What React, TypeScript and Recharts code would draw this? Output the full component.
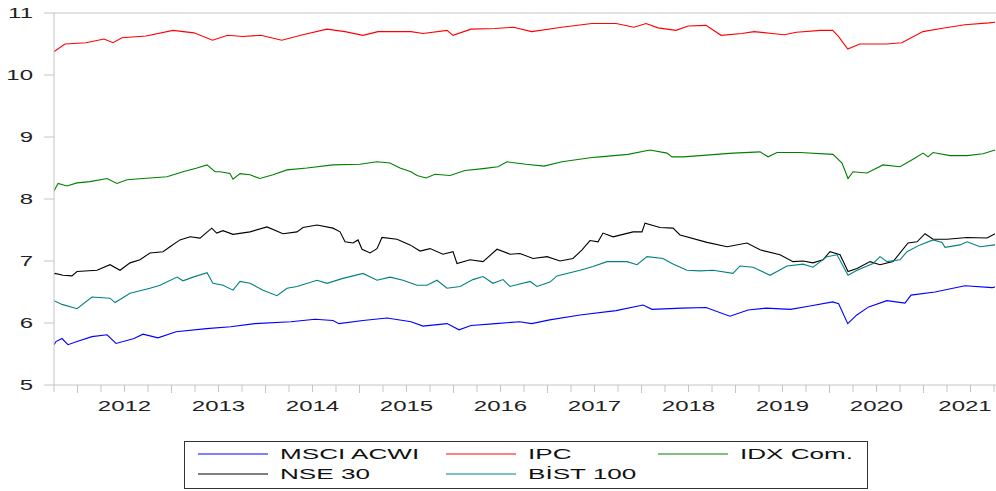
import { LineChart, Line, XAxis, YAxis, ReferenceLine, Legend } from 'recharts';

// [decimal year, log level]
const msciAcwi: [number, number][] = [
  [2011.75, 5.65], [2011.771, 5.7], [2011.835, 5.75], [2011.899, 5.65], [2011.995, 5.7],
  [2012.154, 5.78], [2012.314, 5.81], [2012.41, 5.67], [2012.601, 5.75], [2012.697, 5.82],
  [2012.856, 5.76], [2013.048, 5.86], [2013.372, 5.91], [2013.629, 5.94], [2013.885, 5.99],
  [2014.269, 6.02], [2014.527, 6.06], [2014.718, 6.04], [2014.782, 5.99], [2015.037, 6.04],
  [2015.293, 6.08], [2015.548, 6.02], [2015.676, 5.95], [2015.931, 5.99], [2016.059, 5.89],
  [2016.186, 5.96], [2016.447, 5.99], [2016.703, 6.02], [2016.831, 5.99], [2017.023, 6.05],
  [2017.346, 6.13], [2017.729, 6.2], [2018.016, 6.29], [2018.112, 6.22], [2018.431, 6.24],
  [2018.686, 6.25], [2018.941, 6.11], [2019.133, 6.21], [2019.324, 6.24], [2019.585, 6.22],
  [2019.777, 6.27], [2020.033, 6.34], [2020.097, 6.31], [2020.194, 5.99], [2020.29, 6.13],
  [2020.417, 6.26], [2020.61, 6.36], [2020.803, 6.32], [2020.867, 6.45], [2021.122, 6.5],
  [2021.441, 6.6], [2021.729, 6.57], [2021.761, 6.58],
];

const ipc: [number, number][] = [
  [2011.75, 10.38], [2011.771, 10.4], [2011.867, 10.5], [2012.09, 10.52], [2012.282, 10.58],
  [2012.378, 10.52], [2012.473, 10.6], [2012.729, 10.63], [2013.016, 10.72], [2013.239, 10.68],
  [2013.436, 10.56], [2013.597, 10.64], [2013.756, 10.62], [2013.949, 10.64], [2014.173, 10.56],
  [2014.397, 10.65], [2014.654, 10.74], [2014.846, 10.7], [2015.037, 10.64], [2015.197, 10.7],
  [2015.548, 10.7], [2015.676, 10.67], [2015.931, 10.72], [2015.995, 10.64], [2016.186, 10.74],
  [2016.441, 10.75], [2016.638, 10.77], [2016.831, 10.7], [2017.151, 10.77], [2017.471, 10.83],
  [2017.729, 10.83], [2017.92, 10.77], [2018.048, 10.83], [2018.176, 10.76], [2018.367, 10.72],
  [2018.495, 10.79], [2018.686, 10.8], [2018.846, 10.64], [2019.069, 10.67], [2019.197, 10.7],
  [2019.388, 10.67], [2019.516, 10.65], [2019.649, 10.69], [2019.905, 10.72], [2020.033, 10.72],
  [2020.097, 10.62], [2020.194, 10.42], [2020.321, 10.5], [2020.481, 10.5], [2020.61, 10.5],
  [2020.769, 10.52], [2020.994, 10.7], [2021.186, 10.75], [2021.441, 10.81], [2021.697, 10.84],
  [2021.761, 10.85],
];

const idxCom: [number, number][] = [
  [2011.75, 8.13], [2011.761, 8.16], [2011.793, 8.25], [2011.888, 8.21], [2011.995, 8.26],
  [2012.133, 8.28], [2012.314, 8.33], [2012.42, 8.25], [2012.527, 8.31], [2012.697, 8.33],
  [2012.952, 8.36], [2013.122, 8.44], [2013.271, 8.5], [2013.378, 8.55], [2013.463, 8.44],
  [2013.516, 8.44], [2013.622, 8.41], [2013.654, 8.32], [2013.729, 8.41], [2013.835, 8.39],
  [2013.941, 8.33], [2014.08, 8.39], [2014.229, 8.47], [2014.441, 8.5], [2014.718, 8.55],
  [2015.005, 8.56], [2015.186, 8.6], [2015.324, 8.58], [2015.431, 8.5], [2015.548, 8.44],
  [2015.612, 8.38], [2015.707, 8.34], [2015.803, 8.4], [2015.963, 8.38], [2016.122, 8.46],
  [2016.314, 8.49], [2016.473, 8.52], [2016.569, 8.6], [2016.771, 8.56], [2016.963, 8.53],
  [2017.154, 8.6], [2017.473, 8.67], [2017.559, 8.68], [2017.856, 8.72], [2018.09, 8.79],
  [2018.271, 8.74], [2018.324, 8.68], [2018.441, 8.68], [2018.622, 8.7], [2018.973, 8.74],
  [2019.261, 8.76], [2019.346, 8.68], [2019.441, 8.75], [2019.686, 8.75], [2020.037, 8.72],
  [2020.133, 8.58], [2020.197, 8.33], [2020.25, 8.44], [2020.399, 8.42], [2020.569, 8.55],
  [2020.75, 8.52], [2020.888, 8.64], [2020.995, 8.74], [2021.048, 8.68], [2021.101, 8.75],
  [2021.282, 8.7], [2021.463, 8.7], [2021.633, 8.73], [2021.761, 8.79],
];

const nse30: [number, number][] = [
  [2011.75, 6.79], [2011.761, 6.8], [2011.846, 6.77], [2011.941, 6.76], [2011.995, 6.83],
  [2012.207, 6.85], [2012.346, 6.94], [2012.452, 6.85], [2012.559, 6.97], [2012.665, 7.02],
  [2012.771, 7.13], [2012.91, 7.15], [2012.984, 7.23], [2013.09, 7.34], [2013.197, 7.39],
  [2013.303, 7.37], [2013.428, 7.53], [2013.481, 7.45], [2013.548, 7.49], [2013.654, 7.43],
  [2013.835, 7.47], [2014.016, 7.55], [2014.186, 7.44], [2014.335, 7.47], [2014.399, 7.54],
  [2014.548, 7.58], [2014.718, 7.53], [2014.793, 7.47], [2014.846, 7.31], [2014.931, 7.29],
  [2014.984, 7.34], [2015.027, 7.19], [2015.112, 7.13], [2015.186, 7.2], [2015.239, 7.38],
  [2015.399, 7.35], [2015.537, 7.26], [2015.644, 7.16], [2015.75, 7.2], [2015.888, 7.11],
  [2015.995, 7.15], [2016.037, 6.96], [2016.176, 7.02], [2016.314, 6.99], [2016.463, 7.19],
  [2016.601, 7.11], [2016.707, 7.12], [2016.846, 7.04], [2016.995, 7.07], [2017.133, 7.0],
  [2017.271, 7.04], [2017.367, 7.18], [2017.452, 7.33], [2017.537, 7.31], [2017.59, 7.45],
  [2017.697, 7.39], [2017.91, 7.47], [2018.005, 7.47], [2018.037, 7.61], [2018.197, 7.54],
  [2018.335, 7.53], [2018.41, 7.42], [2018.697, 7.3], [2018.91, 7.23], [2019.122, 7.29],
  [2019.261, 7.18], [2019.473, 7.1], [2019.612, 6.99], [2019.718, 7.0], [2019.824, 6.97],
  [2019.931, 7.02], [2020.005, 7.15], [2020.112, 7.1], [2020.197, 6.83], [2020.293, 6.88],
  [2020.431, 6.99], [2020.537, 6.94], [2020.676, 6.99], [2020.835, 7.29], [2020.931, 7.31],
  [2021.016, 7.44], [2021.101, 7.35], [2021.25, 7.35], [2021.463, 7.38], [2021.676, 7.37],
  [2021.761, 7.44],
];

const bist100: [number, number][] = [
  [2011.75, 6.36], [2011.835, 6.3], [2011.995, 6.23], [2012.154, 6.42], [2012.346, 6.4],
  [2012.399, 6.33], [2012.452, 6.38], [2012.559, 6.48], [2012.771, 6.56], [2012.878, 6.61],
  [2013.059, 6.74], [2013.122, 6.68], [2013.229, 6.74], [2013.378, 6.81], [2013.441, 6.64],
  [2013.548, 6.61], [2013.654, 6.53], [2013.729, 6.67], [2013.835, 6.64], [2013.973, 6.53],
  [2014.122, 6.44], [2014.229, 6.56], [2014.335, 6.59], [2014.548, 6.69], [2014.654, 6.64],
  [2014.824, 6.72], [2015.037, 6.8], [2015.186, 6.69], [2015.324, 6.74], [2015.463, 6.69],
  [2015.612, 6.61], [2015.718, 6.61], [2015.824, 6.69], [2015.931, 6.56], [2016.069, 6.59],
  [2016.207, 6.7], [2016.314, 6.75], [2016.42, 6.64], [2016.527, 6.7], [2016.601, 6.59],
  [2016.814, 6.67], [2016.888, 6.59], [2017.027, 6.66], [2017.101, 6.76], [2017.346, 6.85],
  [2017.484, 6.91], [2017.633, 6.99], [2017.846, 6.99], [2017.952, 6.94], [2018.059, 7.07],
  [2018.229, 7.04], [2018.335, 6.95], [2018.484, 6.85], [2018.622, 6.84], [2018.761, 6.85],
  [2018.973, 6.8], [2019.048, 6.92], [2019.186, 6.9], [2019.367, 6.77], [2019.548, 6.92],
  [2019.718, 6.95], [2019.824, 6.9], [2019.973, 7.07], [2020.08, 7.1], [2020.197, 6.77],
  [2020.293, 6.85], [2020.463, 6.96], [2020.537, 7.07], [2020.612, 6.99], [2020.75, 7.02],
  [2020.824, 7.15], [2020.963, 7.26], [2021.101, 7.34], [2021.197, 7.3], [2021.229, 7.22],
  [2021.388, 7.26], [2021.463, 7.31], [2021.601, 7.23], [2021.761, 7.26],
];

const yearLabels = ['2012', '2013', '2014', '2015', '2016', '2017', '2018', '2019', '2020', '2021'];
const yTicks = [5, 6, 7, 8, 9, 10, 11];

const series = [
  { name: 'MSCI ACWI', color: '#0000ff', points: msciAcwi },
  { name: 'IPC', color: '#ff0000', points: ipc },
  { name: 'IDX Com.', color: '#008000', points: idxCom },
  { name: 'NSE 30', color: '#000000', points: nse30 },
  { name: 'BİST 100', color: '#008080', points: bist100 },
];

const AXIS = '#c4c4c4';
const FONT = '"Liberation Sans", Arial, sans-serif';
const X_START = 2011.75;
const X_END = 2021.771;
const CHART_W = 996;
const quarterTicks = Array.from({ length: 41 }, (_, i) => X_START + i * 0.25);

function YearTick(props: any) {
  const { x, y, payload } = props;
  const v: number = payload.value;
  const frac = v - Math.floor(v);
  const isYearStart = frac === 0;
  const label = frac === 0.5 ? yearLabels.find((s) => Number(s) === Math.floor(v)) : undefined;
  // keep the last label inside the picture
  const lx = Math.min(x, CHART_W - 31);
  return (
    <g>
      <line x1={x} x2={x} y1={y} y2={y + (isYearStart ? 8 : 7)} stroke={AXIS} />
      {label && (
        <text
          transform={`translate(${lx},${y + 26}) scale(1.6,1)`}
          textAnchor="middle"
          fontSize={15}
          fill="#222"
          fontFamily={FONT}
        >
          {label}
        </text>
      )}
    </g>
  );
}

function ValueTick(props: any) {
  const { x, y, payload } = props;
  return (
    <text
      transform={`translate(${x},${y}) scale(1.6,1)`}
      textAnchor="end"
      dy="0.36em"
      fontSize={15}
      fill="#222"
      fontFamily={FONT}
    >
      {payload.value}
    </text>
  );
}

function LegendBox() {
  const cols = [14, 262, 474];
  const rows = [13, 33];
  return (
    <svg width={684} height={48} style={{ display: 'block' }}>
      <rect x={0.5} y={0.5} width={683} height={47} fill="#fff" stroke="#333" />
      {series.map((s, i) => {
        const cx = cols[i % 3];
        const cy = rows[Math.floor(i / 3)];
        return (
          <g key={s.name}>
            <line x1={cx} x2={cx + 70} y1={cy} y2={cy} stroke={s.color} />
            <text
              transform={`translate(${cx + 82},${cy + 5}) scale(1.8,1)`}
              fontSize={14.5}
              fill="#111"
              fontFamily={FONT}
            >
              {s.name}
            </text>
          </g>
        );
      })}
    </svg>
  );
}

export default function App() {
  return (
    <div style={{ position: 'absolute', left: 0, top: 0, background: '#fff' }}>
      <LineChart
        width={CHART_W}
        height={491}
        margin={{ top: 13, right: 0, left: 0, bottom: 76 }}
        style={{ fontFamily: FONT }}
      >
        <XAxis
          type="number"
          dataKey="t"
          domain={[X_START, X_END]}
          ticks={quarterTicks}
          interval={0}
          allowDataOverflow
          height={30}
          tickSize={0}
          tickMargin={0}
          tickLine={false}
          axisLine={{ stroke: AXIS }}
          tick={<YearTick />}
        />
        <YAxis
          type="number"
          domain={[5, 11]}
          ticks={yTicks}
          interval={0}
          width={54}
          tickSize={10}
          tickMargin={11}
          tickLine={{ stroke: AXIS }}
          axisLine={{ stroke: AXIS }}
          tick={<ValueTick />}
        />
        <ReferenceLine y={11} stroke={AXIS} />
        {series.map((s) => (
          <Line
            key={s.name}
            name={s.name}
            data={s.points.map(([t, v]) => ({ t, v }))}
            dataKey="v"
            type="linear"
            stroke={s.color}
            strokeWidth={1.1}
            dot={false}
            activeDot={false}
            isAnimationActive={false}
          />
        ))}
        <Legend
          layout="horizontal"
          verticalAlign="middle"
          align="center"
          content={<LegendBox />}
          wrapperStyle={{ left: 184, top: 441, width: 684, height: 48 }}
        />
      </LineChart>
    </div>
  );
}
